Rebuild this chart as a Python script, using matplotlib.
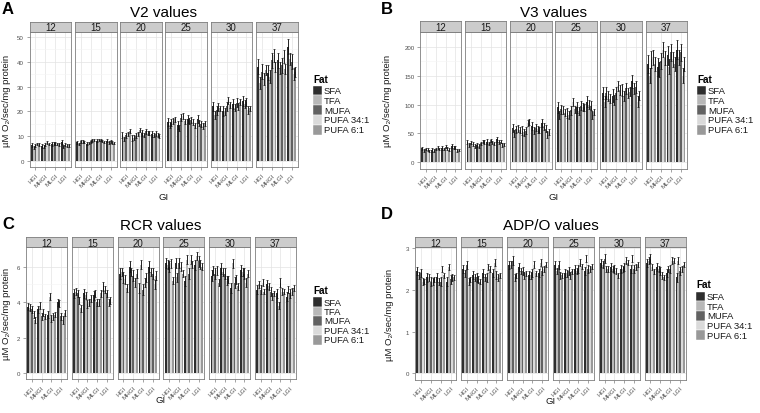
import numpy as np
import matplotlib
matplotlib.use("Agg")
import matplotlib.pyplot as plt
from matplotlib.patches import Rectangle

plt.rcParams['font.family'] = ['Liberation Sans', 'DejaVu Sans']

temps = ["12", "15", "20", "25", "30", "37"]
gi_levels = ["HGI", "MHGI", "MLGI", "LGI"]
fats = ["SFA", "TFA", "MUFA", "PUFA 34:1", "PUFA 6:1"]
fat_colors = ["#2e2e2e", "#b8b8b8", "#626262", "#dadada", "#999999"]

# means[temp][gi][fat]
v2_means = [
    [[6.5, 5.5, 6.5, 7.0, 6.8], [6.3, 5.8, 6.6, 7.6, 7.0], [7.0, 7.0, 7.3, 6.9, 6.8], [7.6, 6.0, 6.6, 6.3, 6.4]],
    [[7.6, 7.0, 8.0, 8.0, 7.8], [7.0, 7.4, 8.0, 8.3, 8.6], [8.2, 8.6, 8.6, 8.1, 7.8], [8.2, 7.6, 8.0, 7.6, 7.4]],
    [[10.5, 9.0, 10.5, 11.0, 12.0], [9.5, 9.5, 10.3, 11.0, 12.5], [11.5, 10.5, 12.0, 11.3, 11.5], [11.0, 10.5, 11.0, 10.5, 10.0]],
    [[15.8, 14.5, 15.5, 16.0, 16.8], [14.5, 13.5, 17.5, 18.3, 16.0], [17.0, 16.0, 16.5, 15.8, 14.5], [17.0, 15.5, 15.0, 14.2, 15.2]],
    [[22.0, 18.5, 20.5, 21.8, 21.2], [20.0, 20.0, 22.0, 24.5, 22.5], [23.0, 21.5, 23.5, 22.0, 23.8], [24.2, 23.0, 23.8, 20.5, 21.2]],
    [[38.0, 31.5, 36.0, 33.0, 36.5], [35.5, 34.0, 40.5, 42.5, 38.0], [40.5, 37.5, 38.5, 42.0, 37.0], [46.0, 41.0, 40.0, 35.0, 36.0]],
]
v2_err = [
    [0.8, 0.6, 0.6, 0.5, 0.5], [0.6, 0.5, 0.5, 0.5, 0.5], [1.2, 0.9, 1.0, 0.9, 0.8],
    [1.5, 1.2, 1.3, 1.2, 1.0], [2.0, 1.5, 1.8, 1.5, 1.2], [3.0, 2.5, 3.0, 2.5, 2.0],
]

v3_means = [
    [[24, 20, 23, 22, 20], [21, 20, 23, 26, 23], [25, 23, 27, 24, 22], [28, 25, 25, 20, 21]],
    [[35, 30, 34, 32, 28], [30, 28, 33, 36, 35], [36, 33, 38, 34, 33], [40, 35, 36, 30, 31]],
    [[60, 50, 57, 58, 56], [55, 52, 55, 68, 70], [63, 55, 60, 57, 56], [68, 62, 58, 48, 52]],
    [[95, 82, 92, 90, 86], [85, 82, 90, 105, 92], [95, 88, 98, 96, 95], [105, 100, 98, 82, 87]],
    [[120, 105, 120, 115, 110], [115, 108, 120, 132, 125], [125, 115, 128, 120, 122], [140, 128, 130, 105, 115]],
    [[170, 150, 178, 182, 170], [165, 160, 175, 195, 180], [185, 165, 190, 178, 170], [195, 182, 190, 150, 170]],
]
v3_err = [
    [3, 2.5, 2.5, 2.5, 2], [4, 3, 3, 3, 3], [7, 6, 6, 6, 5],
    [9, 7, 8, 7, 6], [11, 9, 10, 9, 8], [16, 13, 14, 13, 12],
]

rcr_means = [
    [[3.75, 3.7, 3.6, 3.3, 3.0], [3.6, 3.8, 3.2, 3.4, 3.2], [3.3, 4.3, 3.1, 3.2, 3.3], [4.0, 3.95, 3.2, 3.0, 3.4]],
    [[4.5, 4.6, 4.5, 4.1, 3.65], [4.5, 4.4, 3.9, 4.0, 4.2], [4.4, 4.5, 4.0, 4.0, 4.5], [4.9, 4.7, 4.5, 4.0, 4.1]],
    [[5.6, 5.7, 5.4, 5.3, 4.8], [6.0, 5.7, 5.5, 5.1, 5.6], [4.8, 6.1, 4.7, 5.1, 5.4], [6.0, 5.7, 5.6, 5.0, 5.5]],
    [[6.2, 6.1, 6.0, 6.2, 5.2], [6.2, 5.4, 6.2, 6.0, 5.6], [5.2, 6.4, 5.6, 6.4, 6.1], [6.1, 6.6, 6.3, 6.1, 6.0]],
    [[5.5, 5.8, 5.6, 5.8, 5.1], [5.9, 5.7, 5.6, 5.2, 5.3], [4.8, 6.2, 5.1, 5.3, 4.9], [5.8, 5.7, 5.6, 5.1, 5.6]],
    [[4.7, 5.0, 4.7, 5.1, 4.6], [5.0, 4.9, 4.6, 4.3, 4.5], [4.5, 3.8, 5.1, 4.6, 4.6], [4.3, 4.7, 4.5, 4.6, 4.8]],
]
rcr_err = [
    [0.2, 0.2, 0.2, 0.2, 0.15], [0.25, 0.2, 0.2, 0.2, 0.2], [0.3, 0.25, 0.3, 0.25, 0.25],
    [0.3, 0.25, 0.3, 0.25, 0.2], [0.3, 0.25, 0.3, 0.25, 0.2], [0.25, 0.2, 0.25, 0.2, 0.15],
]

adpo_means = [
    [[2.45, 2.35, 2.4, 2.2, 2.2], [2.3, 2.3, 2.2, 2.2, 2.25], [2.3, 2.2, 2.2, 2.5, 2.35], [2.2, 2.55, 2.25, 2.3, 2.3]],
    [[2.5, 2.4, 2.6, 2.2, 2.25], [2.35, 2.3, 2.3, 2.25, 2.2], [2.4, 2.3, 2.3, 2.55, 2.5], [2.4, 2.65, 2.35, 2.3, 2.35]],
    [[2.6, 2.6, 2.7, 2.3, 2.35], [2.55, 2.45, 2.45, 2.35, 2.4], [2.35, 2.35, 2.4, 2.6, 2.4], [2.4, 2.65, 2.45, 2.5, 2.6]],
    [[2.6, 2.45, 2.6, 2.35, 2.35], [2.4, 2.4, 2.45, 2.35, 2.45], [2.5, 2.45, 2.5, 2.65, 2.55], [2.45, 2.75, 2.5, 2.5, 2.55]],
    [[2.65, 2.6, 2.75, 2.5, 2.5], [2.55, 2.5, 2.5, 2.45, 2.35], [2.5, 2.5, 2.55, 2.7, 2.65], [2.5, 2.75, 2.5, 2.55, 2.6]],
    [[2.65, 2.7, 2.75, 2.55, 2.45], [2.55, 2.5, 2.45, 2.35, 2.3], [2.4, 2.5, 2.5, 2.7, 2.7], [2.3, 2.7, 2.45, 2.5, 2.6]],
]
adpo_err = [
    [0.1, 0.08, 0.1, 0.08, 0.06], [0.1, 0.08, 0.1, 0.08, 0.06], [0.1, 0.08, 0.1, 0.08, 0.06],
    [0.1, 0.08, 0.1, 0.08, 0.06], [0.1, 0.08, 0.1, 0.08, 0.06], [0.1, 0.08, 0.1, 0.08, 0.06],
]

W, H = 760, 414
fig = plt.figure(figsize=(W / 100, H / 100), dpi=100)


def fx(x):
    return x / W


def fy(y):
    return 1 - y / H


BORDER = "#7f7f7f"
TICKCOL = "#4d4d4d"


def draw_panel(means, errs, x0, step, w, strip_top, plot_top, plot_bottom, ylim, yticks,
               title, title_y, letter, letter_xy, leg_x, leg_title_y, key_top, key_h,
               ylab_x, gi_y):
    means = np.asarray(means, dtype=float)
    errs = np.asarray(errs, dtype=float)
    xs = np.arange(1, len(gi_levels) + 1)
    nf = len(fats)
    bw = 0.9 / nf
    minor = [(a + b) / 2 for a, b in zip(yticks[:-1], yticks[1:])]
    for t, temp in enumerate(temps):
        left = x0 + t * step
        ax = fig.add_axes([fx(left), fy(plot_bottom), w / W, (plot_bottom - plot_top) / H])
        ax.set_facecolor("white")
        ax.set_axisbelow(True)
        for j in range(nf):
            ax.bar(xs + (j - (nf - 1) / 2) * bw, means[t, :, j], width=bw,
                   color=fat_colors[j], linewidth=0, zorder=2)
            ax.errorbar(xs + (j - (nf - 1) / 2) * bw, means[t, :, j], yerr=errs[t, j],
                        fmt="none", ecolor="#111111", elinewidth=0.65, capsize=0.6,
                        capthick=0.5, zorder=3)
        ax.set_xlim(0.4, len(gi_levels) + 0.6)
        ax.set_ylim(*ylim)
        ax.set_yticks(yticks)
        ax.set_yticks(minor, minor=True)
        ax.grid(which="major", color="#e3e3e3", linewidth=0.5)
        ax.grid(which="minor", color="#f4f4f4", linewidth=0.4)
        ax.set_xticks(xs)
        ax.set_xticklabels(gi_levels, rotation=45, ha="right", va="top",
                           rotation_mode="anchor", fontsize=4.5, color=TICKCOL)
        ax.tick_params(axis="x", length=2.5, width=0.5, color=BORDER, pad=1.5)
        ax.tick_params(which="minor", length=0)
        if t == 0:
            ax.set_yticklabels([f"{v:g}" for v in yticks], fontsize=4.4, color=TICKCOL)
            ax.tick_params(axis="y", length=2.5, width=0.5, color=BORDER, pad=1.5)
        else:
            ax.tick_params(axis="y", left=False, labelleft=False)
        for s in ax.spines.values():
            s.set_color(BORDER)
            s.set_linewidth(0.6)
        # strip
        sax = fig.add_axes([fx(left), fy(plot_top), w / W, (plot_top - strip_top) / H])
        sax.set_facecolor("#cccccc")
        sax.set_xticks([])
        sax.set_yticks([])
        for s in sax.spines.values():
            s.set_color(BORDER)
            s.set_linewidth(0.6)
        sax.text(0.5, 0.45, temp, ha="center", va="center", fontsize=7, color="#1a1a1a",
                 transform=sax.transAxes)
    cx = x0 + (5 * step + w) / 2
    fig.text(fx(cx), fy(title_y), title, ha="center", va="center", fontsize=11)
    fig.text(fx(letter_xy[0]), fy(letter_xy[1]), letter, ha="left", va="center",
             fontsize=12, fontweight="bold")
    fig.text(fx(ylab_x), fy((plot_top + plot_bottom) / 2), "µM O₂/sec/mg protein",
             rotation=90, ha="center", va="center", fontsize=6.8, color="#1a1a1a")
    fig.text(fx(cx), fy(gi_y), "GI", ha="center", va="center", fontsize=6.8, color="#1a1a1a")
    # legend
    fig.text(fx(leg_x), fy(leg_title_y), "Fat", ha="left", va="center", fontsize=7.2,
             fontweight="bold")
    for k, (name, col) in enumerate(zip(fats, fat_colors)):
        ytop = key_top + k * key_h
        fig.add_artist(Rectangle((fx(leg_x), fy(ytop + key_h)), 9 / W, key_h / H,
                                 transform=fig.transFigure, facecolor=col,
                                 edgecolor="white", linewidth=0.3))
        fig.text(fx(leg_x + 11), fy(ytop + key_h / 2), name, ha="left", va="center",
                 fontsize=6.8, color="#1a1a1a")


draw_panel(v2_means, v2_err, 29.5, 45.3, 41.7, 22.5, 33.3, 168.0, (-2.3, 51.8),
           [0, 10, 20, 30, 40, 50], "V2 values", 13, "A", (2, 9), 313, 80, 86.5, 9.8, 7, 198)
draw_panel(v3_means, v3_err, 420, 45.1, 41.3, 22.3, 33.3, 169.5, (-10.7, 224.9),
           [0, 50, 100, 150, 200], "V3 values", 13, "B", (381, 9), 697, 80, 86.5, 9.8, 388, 198)
draw_panel(rcr_means, rcr_err, 26, 45.8, 41.0, 237.7, 248.3, 380.3, (-0.34, 7.09),
           [0, 2, 4, 6], "RCR values", 226, "C", (2, 225), 313, 291, 298.5, 9.4, 7, 401)
draw_panel(adpo_means, adpo_err, 415, 45.9, 41.5, 237.7, 248.3, 380.6, (-0.15, 3.02),
           [0, 1, 2, 3], "ADP/O values", 226, "D", (381, 215), 696, 285, 292.5, 9.7, 389, 402)

fig.savefig("out.png", dpi=100, facecolor="white")
